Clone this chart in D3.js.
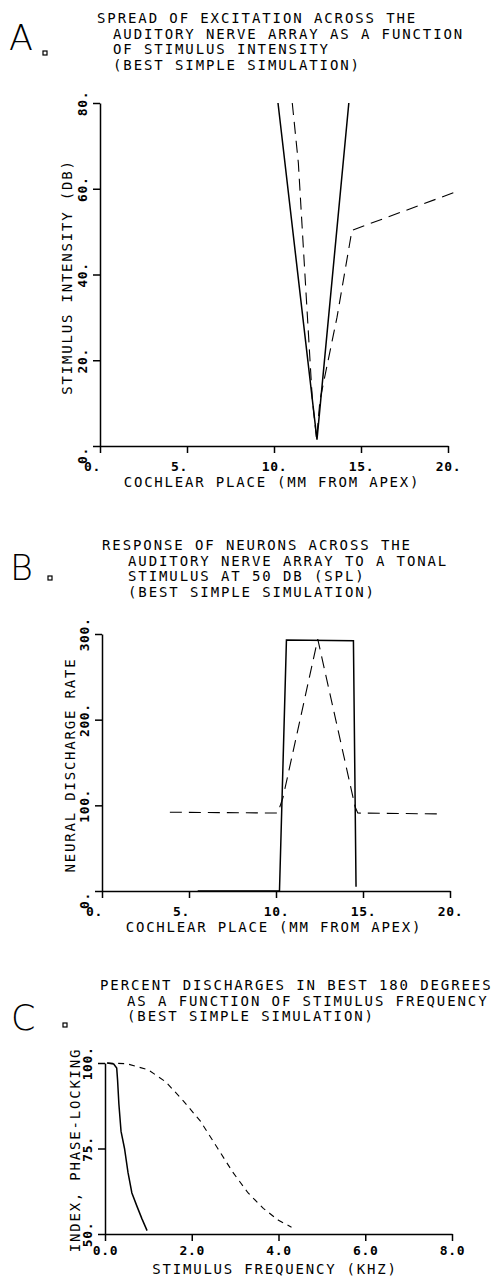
<!DOCTYPE html>
<meta charset="utf-8">
<style>
body { margin: 0; background: #fff; }
text { font-family: "DejaVu Sans Mono", monospace; fill: #000; }
.title { font-size: 14px; letter-spacing: 1.9px; }
.alabel { font-size: 14px; letter-spacing: 1.8px; }
.tick text { font-size: 13px; letter-spacing: 0.6px; font-weight: bold; font-family: "DejaVu Sans Mono", monospace; }
.big { font-family: "DejaVu Sans", sans-serif; font-size: 35px; font-weight: 200; }
.axis path, .axis line { stroke: #000; stroke-width: 1.5; }
.solid { stroke: #000; stroke-width: 1.5; fill: none; }
.dashed { stroke: #000; stroke-width: 1.1; fill: none; stroke-dasharray: 12,7; }
.dashed.fine { stroke-dasharray: 6,5; }
</style>
<body>
<script src="https://d3js.org/d3.v7.min.js"></script>
<script>
// ---- panel A data ----
var titleA = ["SPREAD OF EXCITATION ACROSS THE",
              "AUDITORY NERVE ARRAY AS A FUNCTION",
              "OF STIMULUS INTENSITY",
              "(BEST SIMPLE SIMULATION)"];
var xTicksA = [0, 5, 10, 15, 20];
var xLabelsA = ["0.", "5.", "10.", "15.", "20."];
var yTicksA = [0, 20, 40, 60, 80];
var yLabelsA = ["0.", "20.", "40.", "60.", "80."];
var solidA = [[10.23, 80], [12.47, 1.5], [14.3, 80]];
var dashedA = [[11.05, 80], [11.4, 66], [12.2, 11], [12.45, 1.5], [12.64, 10.7],
               [13.62, 30], [14.48, 50.3], [20.4, 59.2]];

// ---- panel B data ----
var titleB = ["RESPONSE OF NEURONS ACROSS THE",
              "AUDITORY NERVE ARRAY TO A TONAL",
              "STIMULUS AT 50 DB (SPL)",
              "(BEST SIMPLE SIMULATION)"];
var xTicksB = [0, 5, 10, 15, 20];
var xLabelsB = ["0.", "5.", "10.", "15.", "20."];
var yTicksB = [0, 100, 200, 300];
var yLabelsB = ["0.", "100.", "200.", "300."];
var solidB = [[5.5, 0], [10.2, 0], [10.6, 293], [14.45, 292], [14.6, 5]];
var dashedB = [[3.9, 92], [10.1, 91], [10.4, 109], [12.4, 294], [14.55, 98],
               [14.7, 91], [19.3, 90]];

// ---- panel C data ----
var titleC = ["PERCENT DISCHARGES IN BEST 180 DEGREES",
              "AS A FUNCTION OF STIMULUS FREQUENCY",
              "(BEST SIMPLE SIMULATION)"];
var xTicksC = [0, 2, 4, 6, 8];
var xLabelsC = ["0.0", "2.0", "4.0", "6.0", "8.0"];
var yTicksC = [50, 75, 100];
var yLabelsC = ["50.", "75.", "100."];
var solidC = [[0.05, 100], [0.2, 99.7], [0.27, 98.5], [0.29, 95], [0.32, 88],
              [0.37, 80], [0.45, 75], [0.53, 68], [0.62, 62], [0.74, 58],
              [0.85, 54.5], [0.97, 51]];
var dashedC = [[0.05, 100], [0.5, 99.8], [1.0, 98], [1.4, 94.5], [1.8, 89],
               [2.2, 83], [2.6, 75], [2.95, 68], [3.3, 62], [3.65, 57.5],
               [4.0, 54], [4.3, 52]];

var svg = d3.select("body").append("svg")
    .attr("width", 500)
    .attr("height", 1276);

// one panel: title, big letter, axes, two lines
function panel(p) {
  var g = svg.append("g");

  // title block
  p.title.forEach(function(t, i) {
    g.append("text").attr("class", "title")
      .attr("x", i == 0 ? p.tx : p.tx2)
      .attr("y", p.ty + i * 15.6)
      .text(t);
  });

  // big panel letter and its little square
  g.append("text").attr("class", "big")
    .attr("x", p.lx).attr("y", p.ly)
    .text(p.letter);
  g.append("rect")
    .attr("x", p.sx - 2).attr("y", p.sy - 2)
    .attr("width", 4).attr("height", 4)
    .style("fill", "none").style("stroke", "#000").style("stroke-width", 1.2);

  var x = d3.scaleLinear().domain(p.xd).range(p.xr);
  var y = d3.scaleLinear().domain(p.yd).range(p.yr);

  // x axis
  var xa = g.append("g").attr("class", "axis")
      .attr("transform", "translate(0," + p.yr[0] + ")")
      .call(d3.axisBottom(x).tickValues(p.xTicks).tickSize(7).tickSizeOuter(0)
        .tickFormat(function(d, i) { return p.xLabels[i]; }));
  xa.selectAll(".tick text")
      .attr("y", p.tly).attr("dy", "0.37em")
      .attr("dx", function(d, i) { return p.xLabels[i].length < 3 ? -8 : 0; });

  // y axis, labels turned on their side
  var ya = g.append("g").attr("class", "axis")
      .attr("transform", "translate(" + p.xr[0] + ",0)")
      .call(d3.axisLeft(y).tickValues(p.yTicks).tickSize(7).tickSizeOuter(0)
        .tickFormat(function(d, i) { return p.yLabels[i]; }));
  ya.selectAll(".tick text")
      .attr("x", 0).attr("dy", "0.37em")
      .attr("text-anchor", "middle")
      .attr("transform", function(d, i) {
        var sh = p.yLabels[i].length < 3 ? 9 : 0;
        return "translate(-18," + sh + ") rotate(-90)";
      });
  svg.selectAll(".domain").style("fill", "none");

  // axis titles
  g.append("text").attr("class", "alabel")
    .attr("x", p.xlx).attr("y", p.xly)
    .attr("text-anchor", "middle")
    .text(p.xLabel);
  g.append("text").attr("class", "alabel")
    .attr("transform", "translate(" + p.ylx + "," + p.yly + ") rotate(-90)")
    .attr("text-anchor", "middle")
    .attr("dy", "0.37em")
    .text(p.yLabel);

  var line = d3.line()
      .x(function(d) { return x(d[0]); })
      .y(function(d) { return y(d[1]); });

  g.append("path").datum(p.solid).attr("class", "solid").attr("d", line);
  g.append("path").datum(p.dashed).attr("class", p.fine ? "dashed fine" : "dashed").attr("d", line);
}

panel({
  title: titleA, tx: 97, tx2: 113, ty: 23,
  letter: "A", lx: 9, ly: 50, sx: 45, sy: 53,
  xd: [0, 20], xr: [100, 448], yd: [0, 80], yr: [446, 103], tly: 20,
  xTicks: xTicksA, xLabels: xLabelsA, yTicks: yTicksA, yLabels: yLabelsA,
  xLabel: "COCHLEAR PLACE (MM FROM APEX)", xlx: 272, xly: 487,
  yLabel: "STIMULUS INTENSITY (DB)", ylx: 67, yly: 277,
  solid: solidA, dashed: dashedA
});

panel({
  title: titleB, tx: 102, tx2: 128, ty: 550,
  letter: "B", lx: 10, ly: 580, sx: 50, sy: 578,
  xd: [0, 20], xr: [102, 450], yd: [0, 300], yr: [891, 634], tly: 20,
  xTicks: xTicksB, xLabels: xLabelsB, yTicks: yTicksB, yLabels: yLabelsB,
  xLabel: "COCHLEAR PLACE (MM FROM APEX)", xlx: 274, xly: 932,
  yLabel: "NEURAL DISCHARGE RATE", ylx: 70, yly: 765,
  solid: solidB, dashed: dashedB
});

panel({
  title: titleC, tx: 100, tx2: 127, ty: 990,
  letter: "C", lx: 11, ly: 1030, sx: 65, sy: 1025,
  xd: [0, 8], xr: [105, 452], yd: [50, 100], yr: [1234, 1063], tly: 16,
  xTicks: xTicksC, xLabels: xLabelsC, yTicks: yTicksC, yLabels: yLabelsC,
  xLabel: "STIMULUS FREQUENCY (KHZ)", xlx: 275, xly: 1273.5,
  yLabel: "INDEX, PHASE-LOCKING", ylx: 75, yly: 1150,
  solid: solidC, dashed: dashedC, fine: true
});
</script>
</body>
